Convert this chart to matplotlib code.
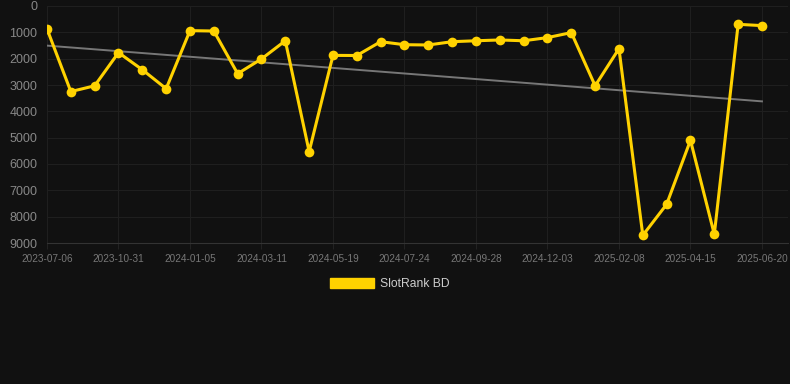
import numpy as np
from matplotlib import pyplot as plt
from matplotlib.patches import Patch

plt.rcParams['font.family'] = ['Liberation Sans', 'DejaVu Sans']

# rank per sample (every point on the category axis), lower is better
ranks = [870, 3250, 3030, 1770, 2420, 3140, 935, 950, 2570, 2010, 1320,
         5530, 1875, 1880, 1355, 1470, 1480, 1355, 1320, 1290, 1320, 1200,
         1010, 3030, 1620, 8710, 7530, 5100, 8670, 695, 745]
tick_labels = ['2023-07-06', '2023-10-31', '2024-01-05', '2024-03-11',
               '2024-05-19', '2024-07-24', '2024-09-28', '2024-12-03',
               '2025-02-08', '2025-04-15', '2025-06-20']
y_ticks = [0, 1000, 2000, 3000, 4000, 5000, 6000, 7000, 8000, 9000]
series_name = 'SlotRank BD'

BG = '#111111'
GOLD = '#FFD200'

def main():
    x = np.arange(len(ranks))
    fig = plt.figure(figsize=(7.9, 3.84), dpi=100, facecolor=BG)
    ax = fig.add_axes([47/790, (384-243)/384, (788-47)/790, (243-6)/384])
    ax.set_facecolor(BG)

    # trend line
    k, b = np.polyfit(x, ranks, 1)
    ax.plot(x, k*x + b, color='#777777', lw=1.4, zorder=2)

    ax.plot(x, ranks, color=GOLD, lw=2.2, marker='o', ms=7,
            markeredgewidth=0, zorder=3)

    ax.set_ylim(9000, 0)
    ax.set_xlim(0, len(ranks) - 1 + 26/23.8)
    ax.set_yticks(y_ticks)
    ax.set_xticks(x[::3])
    ax.set_xticklabels(tick_labels)

    ax.grid(True, color='#1f1f1f', lw=0.8)
    for s in ['top', 'right', 'left']:
        ax.spines[s].set_visible(False)
    ax.spines['bottom'].set_color('#333333')
    ax.tick_params(axis='y', length=0, pad=7, labelsize=9, labelcolor='#888888')
    ax.tick_params(axis='x', length=4, color='#222222', pad=4,
                   labelsize=7.2, labelcolor='#777777')

    fig.legend(handles=[Patch(facecolor=GOLD, edgecolor=GOLD, label=series_name)],
               loc='center', bbox_to_anchor=(390/790, 1 - 284/384),
               frameon=False, handlelength=3.6, handleheight=0.9,
               handletextpad=0.5, fontsize=8.7, labelcolor='#cccccc')

    plt.savefig('out.png', facecolor=BG)

if __name__ == "__main__":
    main()
